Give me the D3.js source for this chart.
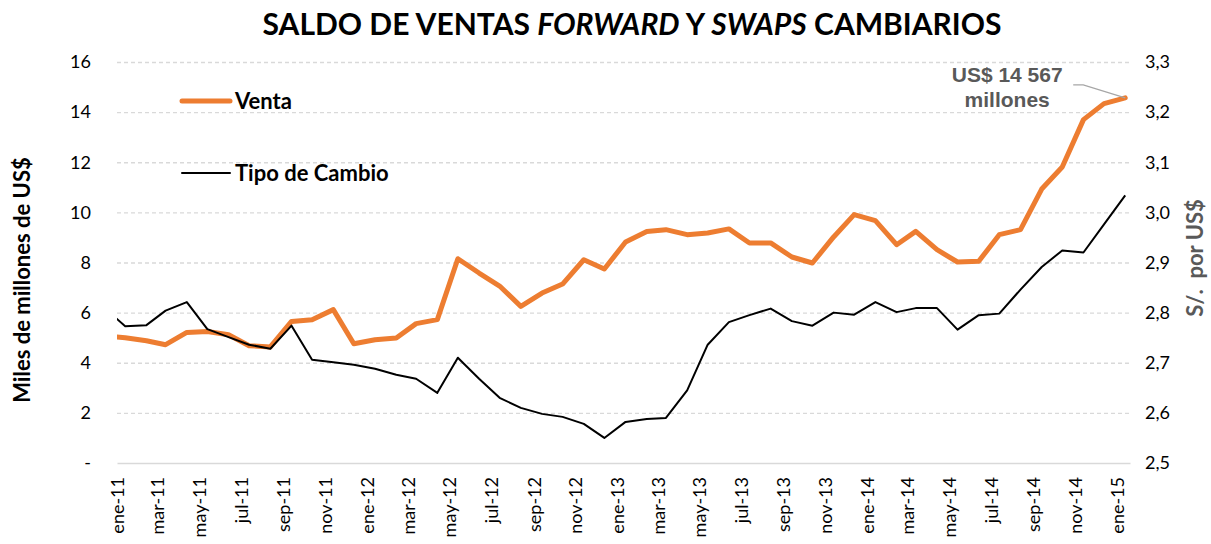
<!DOCTYPE html>
<html>
<head>
<meta charset="utf-8">
<script src="https://d3js.org/d3.v7.min.js"></script>
<style>
  body { margin: 0; background: #fff; }
  text { font-family: Lato, "Open Sans", sans-serif; }
</style>
</head>
<body>
<div id="chart"></div>
<script>
// monthly observations (dic-10 falls before the axis start and is clipped)
const periods = ['dic-10',
  'ene-11','feb-11','mar-11','abr-11','may-11','jun-11','jul-11','ago-11','sep-11','oct-11','nov-11','dic-11',
  'ene-12','feb-12','mar-12','abr-12','may-12','jun-12','jul-12','ago-12','sep-12','oct-12','nov-12','dic-12',
  'ene-13','feb-13','mar-13','abr-13','may-13','jun-13','jul-13','ago-13','sep-13','oct-13','nov-13','dic-13',
  'ene-14','feb-14','mar-14','abr-14','may-14','jun-14','jul-14','ago-14','sep-14','oct-14','nov-14','dic-14',
  'ene-15']

// Venta, miles de millones de US$
const venta = [5.07,
  5.00, 4.88, 4.72, 5.21, 5.25, 5.12, 4.68, 4.63, 5.65, 5.72, 6.12, 4.76,
  4.92, 4.99, 5.56, 5.72, 8.15, 7.58, 7.06, 6.25, 6.78, 7.14, 8.11, 7.74,
  8.82, 9.24, 9.31, 9.11, 9.18, 9.34, 8.78, 8.78, 8.22, 7.98, 9.02, 9.91,
  9.67, 8.71, 9.24, 8.51, 8.02, 8.05, 9.11, 9.31, 10.93, 11.81, 13.70, 14.34,
  14.567]

// Tipo de cambio, S/. por US$
const tipoCambio = [2.810,
  2.773, 2.775, 2.804, 2.821, 2.767, 2.751, 2.736, 2.728, 2.774, 2.706, 2.701, 2.696,
  2.688, 2.676, 2.668, 2.640, 2.710, 2.668, 2.630, 2.610, 2.598, 2.592, 2.578, 2.550,
  2.582, 2.588, 2.590, 2.645, 2.736, 2.781, 2.795, 2.808, 2.783, 2.774, 2.800, 2.796,
  2.821, 2.801, 2.809, 2.809, 2.766, 2.795, 2.798, 2.846, 2.891, 2.924, 2.920, 2.976,
  3.034]

const xTickLabels = ['ene-11','mar-11','may-11','jul-11','sep-11','nov-11',
  'ene-12','mar-12','may-12','jul-12','sep-12','nov-12',
  'ene-13','mar-13','may-13','jul-13','sep-13','nov-13',
  'ene-14','mar-14','may-14','jul-14','sep-14','nov-14','ene-15']
const leftTicks = [0, 2, 4, 6, 8, 10, 12, 14, 16]
const rightTicks = [2.5, 2.6, 2.7, 2.8, 2.9, 3.0, 3.1, 3.2, 3.3]

const meses = {ene:0, feb:1, mar:2, abr:3, may:4, jun:5, jul:6, ago:7, sep:8, oct:9, nov:10, dic:11}
const parsePeriod = (p, day) => {
  const [m, y] = p.split('-')
  return new Date(2000 + (+y), meses[m], day)
}
const obsDay = 13   // observations sit around mid-month
const data = periods.map((p, i) => ({
  date: parsePeriod(p, obsDay),
  venta: venta[i],
  tc: tipoCambio[i]
}))

// dimensions
const dimensions = {
  width: 1211,
  height: 544,
  margin: { top: 62, right: 81, bottom: 81, left: 117 }
}
dimensions.boundedWidth = dimensions.width - dimensions.margin.left - dimensions.margin.right
dimensions.boundedHeight = dimensions.height - dimensions.margin.top - dimensions.margin.bottom

const wrapper = d3.select('#chart').append('svg')
  .attr('width', dimensions.width)
  .attr('height', dimensions.height)

const bounds = wrapper.append('g')
  .attr('transform', `translate(${dimensions.margin.left},${dimensions.margin.top})`)

// scales
const xScale = d3.scaleTime()
  .domain([new Date(2011, 0, 1), new Date(2015, 0, 20)])
  .range([0, dimensions.boundedWidth])
const yLeft = d3.scaleLinear().domain([0, 16]).range([dimensions.boundedHeight, 0])
const yRight = d3.scaleLinear().domain([2.5, 3.3]).range([dimensions.boundedHeight, 0])

// gridlines
bounds.append('g')
  .call(d3.axisLeft(yLeft).tickValues(leftTicks.filter(d => d > 0))
    .tickSize(-dimensions.boundedWidth).tickFormat(''))
  .call(g => g.select('.domain').remove())
  .call(g => g.selectAll('line')
    .attr('stroke', '#d9d9d9').attr('stroke-width', 1.4).attr('stroke-dasharray', '4,3'))

// x axis
const xAxis = bounds.append('g')
  .attr('transform', `translate(0,${dimensions.boundedHeight})`)
  .call(d3.axisBottom(xScale)
    .tickValues(xTickLabels.map(l => parsePeriod(l, 1)))
    .tickSize(0)
    .tickFormat((d, i) => xTickLabels[i]))
xAxis.select('.domain').attr('stroke', '#d9d9d9').attr('stroke-width', 1.6)
xAxis.selectAll('text')
  .attr('font-size', 18)
  .attr('fill', '#000')
  .attr('text-anchor', 'end')
  .attr('transform', 'rotate(-90)')
  .attr('x', -14)
  .attr('y', 0)
  .attr('dy', '0.35em')

// left axis
const yAxisL = bounds.append('g')
  .call(d3.axisLeft(yLeft).tickValues(leftTicks).tickSize(0)
    .tickFormat(d => d === 0 ? '-' : d))
yAxisL.select('.domain').remove()
yAxisL.selectAll('text').attr('font-size', 18).attr('fill', '#000').attr('x', -26)

// right axis
const yAxisR = bounds.append('g')
  .attr('transform', `translate(${dimensions.boundedWidth},0)`)
  .call(d3.axisRight(yRight).tickValues(rightTicks).tickSize(0)
    .tickFormat(d => d3.format('.1f')(d).replace('.', ',')))
yAxisR.select('.domain').remove()
yAxisR.selectAll('text').attr('font-size', 18).attr('fill', '#000').attr('x', 15)

// lines
bounds.append('clipPath').attr('id', 'plot-clip')
  .append('rect')
  .attr('x', 0).attr('y', -10)
  .attr('width', dimensions.boundedWidth + 10)
  .attr('height', dimensions.boundedHeight + 20)

const lineVenta = d3.line().x(d => xScale(d.date)).y(d => yLeft(d.venta))
const lineTc = d3.line().x(d => xScale(d.date)).y(d => yRight(d.tc))

const lines = bounds.append('g').attr('clip-path', 'url(#plot-clip)')
lines.append('path')
  .attr('d', lineVenta(data))
  .attr('fill', 'none')
  .attr('stroke', '#ed7d31')
  .attr('stroke-width', 5)
  .attr('stroke-linejoin', 'round')
  .attr('stroke-linecap', 'round')
lines.append('path')
  .attr('d', lineTc(data))
  .attr('fill', 'none')
  .attr('stroke', '#000')
  .attr('stroke-width', 2)
  .attr('stroke-linejoin', 'round')

// annotation on the last point
const last = data[data.length - 1]
const lx = xScale(last.date), ly = yLeft(last.venta)
bounds.append('polyline')
  .attr('points', `${lx - 52},${ly - 13} ${lx - 42},${ly - 13} ${lx},${ly}`)
  .attr('fill', 'none')
  .attr('stroke', '#a6a6a6')
  .attr('stroke-width', 1.2)
const note = bounds.append('text')
  .attr('text-anchor', 'middle')
  .attr('fill', '#595959')
  .attr('font-weight', 'bold')
  .attr('font-size', 21)
  .style('font-family', '"Liberation Sans", Arial, sans-serif')
note.append('tspan').attr('x', lx - 118).attr('y', ly - 16)
  .text('US$ ' + d3.format(',')(Math.round(last.venta * 1000)).replace(',', ' '))
note.append('tspan').attr('x', lx - 118).attr('y', ly + 9).text('millones')

// legend
const legend = [
  { label: 'Venta', color: '#ed7d31', width: 5, y: 39 },
  { label: 'Tipo de Cambio', color: '#000', width: 2, y: 111 }
]
const lg = bounds.selectAll('.legend').data(legend).join('g')
  .attr('transform', d => `translate(65,${d.y})`)
lg.append('line')
  .attr('x1', 0).attr('x2', 48)
  .attr('stroke', d => d.color)
  .attr('stroke-width', d => d.width)
  .attr('stroke-linecap', 'round')
lg.append('text')
  .attr('x', 53).attr('dy', '0.36em')
  .attr('font-size', 22).attr('font-weight', 'bold')
  .text(d => d.label)

// axis titles
wrapper.append('text')
  .attr('transform', 'translate(30,280) rotate(-90)')
  .attr('text-anchor', 'middle')
  .attr('font-size', 22).attr('font-weight', 'bold')
  .text('Miles de millones de US$')
wrapper.append('text')
  .attr('transform', 'translate(1203,258) rotate(-90)')
  .attr('text-anchor', 'middle')
  .attr('font-size', 22).attr('font-weight', 'bold')
  .attr('fill', '#595959')
  .style('white-space', 'pre')
  .text('S/.  por US$')

// title
const title = wrapper.append('text')
  .attr('x', 632).attr('y', 35)
  .attr('text-anchor', 'middle')
  .attr('font-size', 30).attr('font-weight', 'bold')
title.append('tspan').text('SALDO DE VENTAS ')
title.append('tspan').attr('font-style', 'italic').text('FORWARD')
title.append('tspan').text(' Y ')
title.append('tspan').attr('font-style', 'italic').text('SWAPS')
title.append('tspan').text(' CAMBIARIOS')
</script>
</body>
</html>
